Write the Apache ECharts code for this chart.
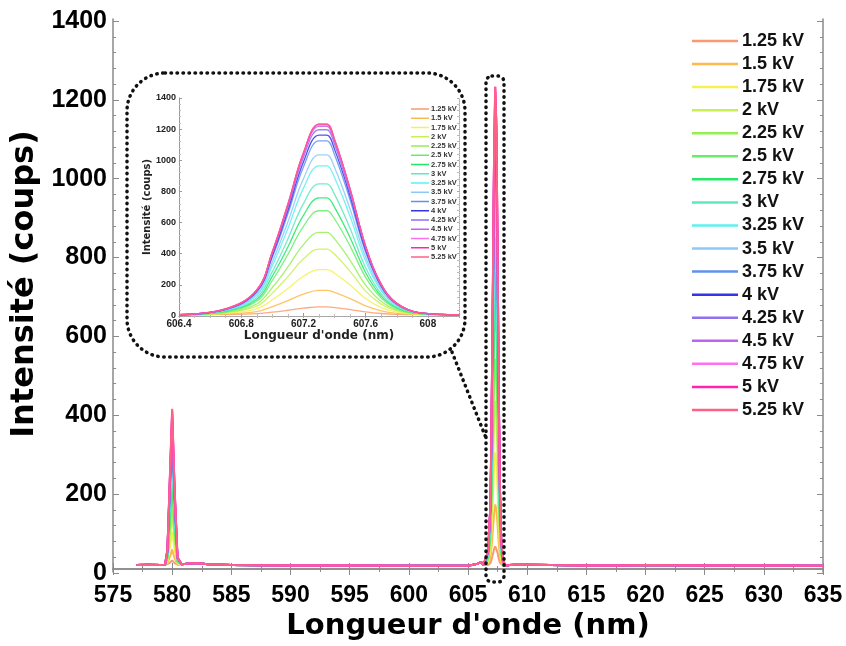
<!DOCTYPE html>
<html><head><meta charset="utf-8">
<script src="https://cdn.jsdelivr.net/npm/echarts@6/dist/echarts.min.js"></script>
<style>html,body{margin:0;padding:0;background:#fff}#c{width:846px;height:646px}</style>
</head><body><div id="c"></div>
<script>
const voltages = ['1.25 kV','1.5 kV','1.75 kV','2 kV','2.25 kV','2.5 kV','2.75 kV','3 kV','3.25 kV','3.5 kV','3.75 kV','4 kV','4.25 kV','4.5 kV','4.75 kV','5 kV','5.25 kV'];
const colors = ['#FB9A70','#FFB84D','#F6F050','#C8F055','#96EE55','#66EE66','#22E866','#5CE8C0','#5CF0F0','#8CC8F8','#6090F0','#3434E6','#9070F0','#C062F0','#FF70F0','#FF22B4','#FF6088'];

// x grid of the 607 nm line (inset and main plot)
const peakX = [606.4,606.7,606.9,607.0,607.1,607.2,607.3,607.35,607.4,607.5,607.6,607.7,607.8,607.95,608.2];
const peak607 = [
 [8,10,15,25,37,50,58,58,54,41,26,16,11,9,8],
 [8,13,28,60,99,141,165,165,152,112,65,33,17,10,8],
 [8,17,46,104,176,255,298,298,275,199,112,54,25,11,8],
 [8,21,63,147,253,367,430,430,396,287,160,76,33,12,8],
 [8,24,77,183,315,458,537,537,495,357,198,93,40,13,8],
 [8,28,95,228,395,576,676,676,623,449,248,115,48,15,8],
 [8,31,106,256,443,646,758,758,698,503,278,128,53,16,8],
 [8,33,117,285,495,722,848,848,781,562,310,142,58,16,8],
 [8,37,132,323,562,821,964,964,888,639,352,161,65,18,8],
 [8,39,142,347,604,881,1035,1035,953,686,378,172,70,18,8],
 [8,42,153,377,656,957,1125,1125,1036,745,410,187,75,19,8],
 [8,43,158,389,677,989,1162,1162,1070,770,423,193,77,20,8],
 [8,44,162,400,697,1018,1196,1196,1101,792,436,198,79,20,8],
 [8,44,165,407,710,1037,1218,1218,1121,807,444,202,81,20,8],
 [8,45,166,410,714,1043,1226,1226,1129,812,446,203,81,20,8],
 [8,45,167,412,718,1048,1232,1232,1134,816,449,204,81,20,8],
 [8,46,169,414,720,1049,1232,1232,1133,814,447,203,81,20,8]
];
// 580 nm line
const peak580X = [579.6,579.8,580.0,580.2,580.45];
const peak580 = [
 [12,16,22,15,11],[14,30,50,28,12],[18,55,95,50,14],[23,80,140,73,16],
 [26,100,175,92,18],[30,122,215,112,20],[33,139,245,128,21],[36,156,275,143,23],
 [40,175,310,160,25],[42,186,330,170,26],[44,200,355,183,27],[46,207,368,190,28],
 [47,214,380,196,29],[48,220,392,202,29],[49,225,400,206,30],[50,228,405,208,30],
 [50,230,409,210,30]
];
// baseline pieces
const baseLeftX = [577,578,579,579.4];
const baseLeftY = [10,11,10,11];
const baseMidX = [580.8,581.5,582,583,585,590,595,600,603,605,605.8,606.1,606.3];
const baseMidY = [12,14,15,12,10,9,9,8,8,8,13,18,10];
const baseRightX = [608.5,609,610,612,615,618,620,625,630,635];
const baseRightY = [10,11,11,10,9,9,10,9,9,8];

const zip = (xs, ys) => xs.map((x, i) => [x, ys[i]]);
const series = [];
voltages.forEach((v, i) => {
  const xs = [].concat(baseLeftX, peak580X, baseMidX, peakX, baseRightX);
  const ys = [].concat(baseLeftY, peak580[i], baseMidY, peak607[i], baseRightY);
  series.push({name: v, type: 'line', xAxisIndex: 0, yAxisIndex: 0, data: zip(xs, ys),
    showSymbol: false, symbol: 'none', sampling: null, lineStyle: {width: 2, color: colors[i]}, itemStyle: {color: colors[i]}, z: 3});
});
voltages.forEach((v, i) => {
  series.push({name: v, type: 'line', xAxisIndex: 2, yAxisIndex: 4, data: zip(peakX, peak607[i]),
    smooth: 0.4, showSymbol: false, symbol: 'none', clip: true,
    lineStyle: {width: 1.3, color: colors[i], opacity: 0.85}, itemStyle: {color: colors[i]}, z: 5});
});

const AX = '#8a8a8a';
const tickFont = 'Liberation Sans, Arial, sans-serif';
const titleFont = 'DejaVu Sans, sans-serif';
const plain = v => String(v);
const option = {
  animation: false,
  backgroundColor: '#fff',
  grid: [
    {left: 113, right: 23, top: 19, bottom: 70},
    {left: 179, right: 387, top: 98, bottom: 330},
    {left: 113, right: 23, top: 21, bottom: 73}
  ],
  xAxis: [
    {type: 'value', gridIndex: 0, min: 575, max: 635, interval: 5,
     axisLine: {lineStyle: {color: AX, width: 1.5}}, axisTick: {inside: true, length: 6, lineStyle: {color: AX}},
     minorTick: {show: true, splitNumber: 2, length: 3, lineStyle: {color: AX}},
     axisLabel: {color: '#000', fontFamily: tickFont, fontWeight: 'bold', fontSize: 23, margin: 12},
     splitLine: {show: false},
     name: "Longueur d'onde (nm)", nameLocation: 'middle', nameGap: 37,
     nameTextStyle: {color: '#000', fontFamily: titleFont, fontWeight: 'bold', fontSize: 29}},
    {type: 'value', gridIndex: 0, position: 'top', min: 575, max: 635, interval: 5,
     axisLine: {lineStyle: {color: AX, width: 1.5}}, axisTick: {inside: true, length: 6, lineStyle: {color: AX}},
     minorTick: {show: true, splitNumber: 2, length: 3, lineStyle: {color: AX}},
     axisLabel: {show: false}, splitLine: {show: false}},
    {type: 'value', gridIndex: 1, min: 606.4, max: 608.2, interval: 0.4,
     axisLine: {lineStyle: {color: '#999', width: 1}}, axisTick: {inside: true, length: 3, lineStyle: {color: '#999'}},
     minorTick: {show: true, splitNumber: 4, length: 2, lineStyle: {color: '#bbb'}},
     axisLabel: {color: '#222', fontFamily: tickFont, fontWeight: 'bold', fontSize: 10, margin: 3, showMaxLabel: false},
     splitLine: {show: false},
     name: "Longueur d'onde (nm)", nameLocation: 'middle', nameGap: 14,
     nameTextStyle: {color: '#222', fontFamily: titleFont, fontWeight: 'bold', fontSize: 12}},
    {type: 'value', gridIndex: 1, position: 'top', min: 606.4, max: 608.2, interval: 0.4,
     axisLine: {lineStyle: {color: '#aaa', width: 1, type: 'dotted'}}, axisTick: {inside: true, length: 2, lineStyle: {color: '#aaa'}},
     minorTick: {show: true, splitNumber: 4, length: 2, lineStyle: {color: '#bbb'}},
     axisLabel: {show: false}, splitLine: {show: false}},
    {type: 'value', gridIndex: 2, min: 0, max: 1, show: false}
  ],
  yAxis: [
    {type: 'value', gridIndex: 0, min: -8, max: 1405, position: 'left',
     axisLine: {show: true, lineStyle: {color: AX, width: 1.5}}, axisTick: {show: false}, axisLabel: {show: false}, splitLine: {show: false}},
    {type: 'value', gridIndex: 0, min: -8, max: 1405, position: 'right',
     axisLine: {show: true, lineStyle: {color: AX, width: 1.5}}, axisTick: {show: false}, axisLabel: {show: false}, splitLine: {show: false}},
    {type: 'value', gridIndex: 2, min: 0, max: 1400, interval: 200, position: 'left',
     axisLine: {show: false}, axisTick: {inside: true, length: 6, lineStyle: {color: AX}},
     minorTick: {show: true, splitNumber: 5, length: 3, lineStyle: {color: AX}},
     axisLabel: {formatter: plain, color: '#000', fontFamily: tickFont, fontWeight: 'bold', fontSize: 25, margin: 6},
     splitLine: {show: false},
     name: 'Intensité (coups)', nameLocation: 'middle', nameGap: 68, nameRotate: 90,
     nameTextStyle: {color: '#000', fontFamily: titleFont, fontWeight: 'bold', fontSize: 32, padding: [0, 0, 0, 26]}},
    {type: 'value', gridIndex: 2, min: 0, max: 1400, interval: 200, position: 'right',
     axisLine: {show: false}, axisTick: {inside: true, length: 6, lineStyle: {color: AX}},
     minorTick: {show: true, splitNumber: 5, length: 3, lineStyle: {color: AX}},
     axisLabel: {show: false}, splitLine: {show: false}},
    {type: 'value', gridIndex: 1, min: 0, max: 1400, interval: 200, position: 'left',
     axisLine: {show: true, lineStyle: {color: '#999', width: 1}}, axisTick: {inside: true, length: 3, lineStyle: {color: '#999'}},
     minorTick: {show: true, splitNumber: 5, length: 2, lineStyle: {color: '#bbb'}},
     axisLabel: {formatter: plain, color: '#222', fontFamily: tickFont, fontWeight: 'bold', fontSize: 9, margin: 3},
     splitLine: {show: false},
     name: 'Intensité (coups)', nameLocation: 'middle', nameGap: 26, nameRotate: 90,
     nameTextStyle: {color: '#222', fontFamily: titleFont, fontWeight: 'bold', fontSize: 10}},
    {type: 'value', gridIndex: 1, min: 0, max: 1400, interval: 200, position: 'right',
     axisLine: {show: true, lineStyle: {color: '#aaa', width: 1, type: 'dotted'}}, axisTick: {inside: true, length: 2, lineStyle: {color: '#aaa'}},
     minorTick: {show: true, splitNumber: 5, length: 2, lineStyle: {color: '#bbb'}},
     axisLabel: {show: false}, splitLine: {show: false}}
  ],
  legend: [
    {orient: 'vertical', left: 687, top: 27, itemWidth: 46, itemHeight: 2.5, itemGap: 5.06, icon: 'rect',
     data: voltages, selectedMode: false,
     textStyle: {color: '#111', fontFamily: tickFont, fontWeight: 'bold', fontSize: 18, lineHeight: 18, padding: [0,0,0,-1]}},
    {orient: 'vertical', left: 406, top: 100, itemWidth: 18, itemHeight: 1.5, itemGap: 1.25, icon: 'rect',
     data: voltages, selectedMode: false,
     textStyle: {color: '#333', fontFamily: tickFont, fontWeight: 'bold', fontSize: 7.5, lineHeight: 8, padding: [0,0,0,-3]}}
  ],
  graphic: [
    {type: 'rect', shape: {x: 127, y: 73, width: 338, height: 284, r: 38}, z: 10,
     style: {fill: 'none', stroke: '#111', lineWidth: 3.5, lineDash: [0.5, 5.5], lineCap: 'round'}},
    {type: 'rect', shape: {x: 486, y: 76, width: 18, height: 506, r: 6}, z: 10,
     style: {fill: 'none', stroke: '#111', lineWidth: 3.5, lineDash: [0.5, 5.5], lineCap: 'round'}},
    {type: 'line', shape: {x1: 452, y1: 352, x2: 486, y2: 438}, z: 10,
     style: {stroke: '#111', lineWidth: 3.5, lineDash: [0.5, 5.5], lineCap: 'round'}}
  ],
  series: series
};
const chart = echarts.init(document.getElementById('c'), null, {renderer: 'canvas'});
chart.setOption(option);
</script></body></html>
